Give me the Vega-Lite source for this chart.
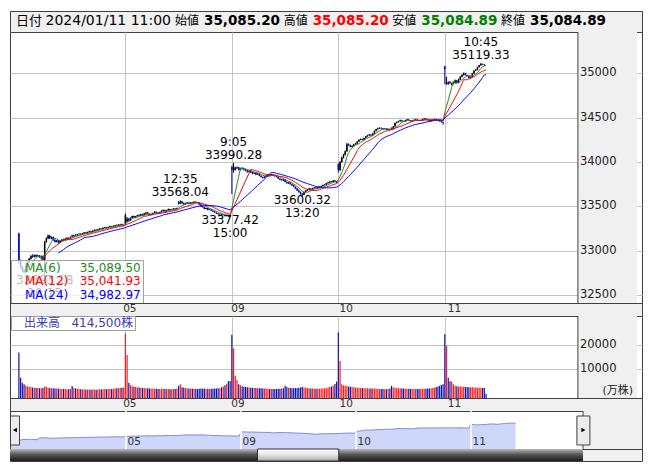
{
"$schema":"https://vega.github.io/schema/vega-lite/v6.json",
"background":"#ffffff",
"padding":{"left":8,"top":10,"right":5,"bottom":5},
"bounds":"flush",
"spacing":0,
"config":{"font":"DejaVu Sans, Noto Sans CJK JP","view":{"stroke":"#404040"}},
"resolve":{"scale":{"color":"independent","shape":"independent"},"legend":{"color":"independent","shape":"independent"}},
"datasets":{
"quote":[
{"k":"O","label":"始値","val":"35,085.20","date":"2024/01/11 11:00"},
{"k":"H","label":"高値","val":"35,085.20","date":"2024/01/11 11:00"},
{"k":"L","label":"安値","val":"35,084.89","date":"2024/01/11 11:00"},
{"k":"C","label":"終値","val":"35,084.89","date":"2024/01/11 11:00"}],
"days":[{"t":62,"d":"05"},{"t":124,"d":"09"},{"t":186,"d":"10"},{"t":248,"d":"11"}],
"pticks":[{"p":32500},{"p":33000},{"p":33500},{"p":34000},{"p":34500},{"p":35000}],
"vticks":[{"v":10000},{"v":20000}],
"notes":[
{"t":15,"p":32693.18,"side":"lo","label":"32693.18\n10:15"},
{"t":94,"p":33568.04,"side":"hi","label":"12:35\n33568.04"},
{"t":123,"p":33377.42,"side":"lo","label":"33377.42\n15:00"},
{"t":125,"p":33990.28,"side":"hi","label":"9:05\n33990.28"},
{"t":165,"p":33600.32,"side":"lo","label":"33600.32\n13:20"},
{"t":269,"p":35119.33,"side":"hi","label":"10:45\n35119.33"}],
"vlabel":[{"lab":"出来高\u00a0\u00a0\u00a0414,500株"}],
"bars":[
{"t":0,"o":33193,"h":33203,"l":32850,"c":32880,"v":16860},
{"t":1,"o":32880,"h":32900,"l":32800,"c":32820,"v":6530},
{"t":2,"o":32820,"h":32830,"l":32760,"c":32780,"v":4490},
{"t":3,"o":32780,"h":32800,"l":32740,"c":32760,"v":3920},
{"t":4,"o":32760,"h":32830,"l":32750,"c":32820,"v":3400},
{"t":5,"o":32820,"h":32880,"l":32810,"c":32870,"v":3100},
{"t":6,"o":32870,"h":32920,"l":32860,"c":32910,"v":2900},
{"t":7,"o":32910,"h":32950,"l":32900,"c":32940,"v":2800},
{"t":8,"o":32940,"h":32960,"l":32920,"c":32930,"v":2600},
{"t":9,"o":32930,"h":32955,"l":32925,"c":32950,"v":2500},
{"t":10,"o":32950,"h":32960,"l":32930,"c":32935,"v":2400},
{"t":11,"o":32935,"h":32955,"l":32930,"c":32945,"v":2400},
{"t":12,"o":32945,"h":32950,"l":32920,"c":32925,"v":2300},
{"t":13,"o":32925,"h":32945,"l":32900,"c":32940,"v":2300},
{"t":14,"o":32940,"h":32945,"l":32880,"c":32890,"v":2400},
{"t":15,"o":32890,"h":33110,"l":32693.18,"c":33100,"v":3000},
{"t":16,"o":33100,"h":33150,"l":33090,"c":33140,"v":2800},
{"t":17,"o":33140,"h":33180,"l":33130,"c":33170,"v":2600},
{"t":18,"o":33170,"h":33175,"l":33130,"c":33140,"v":2400},
{"t":19,"o":33140,"h":33160,"l":33130,"c":33155,"v":2300},
{"t":20,"o":33155,"h":33160,"l":33110,"c":33120,"v":2300},
{"t":21,"o":33120,"h":33130,"l":33090,"c":33100,"v":2200},
{"t":22,"o":33100,"h":33120,"l":33095,"c":33115,"v":2200},
{"t":23,"o":33115,"h":33120,"l":33080,"c":33090,"v":2100},
{"t":24,"o":33090,"h":33115,"l":33085,"c":33110,"v":2100},
{"t":25,"o":33110,"h":33130,"l":33105,"c":33125,"v":2000},
{"t":26,"o":33125,"h":33135,"l":33110,"c":33120,"v":2000},
{"t":27,"o":33120,"h":33140,"l":33115,"c":33135,"v":2000},
{"t":28,"o":33135,"h":33150,"l":33130,"c":33145,"v":1900},
{"t":29,"o":33145,"h":33150,"l":33130,"c":33140,"v":1900},
{"t":30,"o":33140,"h":33160,"l":33135,"c":33155,"v":2000},
{"t":31,"o":33175,"h":33180,"l":33150,"c":33160,"v":3200},
{"t":32,"o":33160,"h":33180,"l":33155,"c":33175,"v":2400},
{"t":33,"o":33175,"h":33185,"l":33165,"c":33170,"v":2200},
{"t":34,"o":33170,"h":33190,"l":33168,"c":33185,"v":2100},
{"t":35,"o":33185,"h":33195,"l":33180,"c":33190,"v":2000},
{"t":36,"o":33190,"h":33195,"l":33175,"c":33180,"v":1900},
{"t":37,"o":33180,"h":33200,"l":33178,"c":33195,"v":1900},
{"t":38,"o":33195,"h":33210,"l":33190,"c":33205,"v":1800},
{"t":39,"o":33205,"h":33210,"l":33190,"c":33195,"v":1800},
{"t":40,"o":33195,"h":33215,"l":33192,"c":33210,"v":1800},
{"t":41,"o":33210,"h":33225,"l":33205,"c":33220,"v":1800},
{"t":42,"o":33220,"h":33225,"l":33205,"c":33210,"v":1700},
{"t":43,"o":33210,"h":33230,"l":33208,"c":33225,"v":1800},
{"t":44,"o":33225,"h":33240,"l":33220,"c":33235,"v":1800},
{"t":45,"o":33235,"h":33240,"l":33220,"c":33228,"v":1700},
{"t":46,"o":33228,"h":33245,"l":33225,"c":33240,"v":1800},
{"t":47,"o":33240,"h":33255,"l":33235,"c":33250,"v":1900},
{"t":48,"o":33250,"h":33255,"l":33238,"c":33245,"v":1800},
{"t":49,"o":33245,"h":33262,"l":33242,"c":33258,"v":1900},
{"t":50,"o":33258,"h":33270,"l":33255,"c":33265,"v":2000},
{"t":51,"o":33265,"h":33268,"l":33250,"c":33255,"v":1900},
{"t":52,"o":33255,"h":33272,"l":33252,"c":33268,"v":2000},
{"t":53,"o":33268,"h":33280,"l":33265,"c":33275,"v":2100},
{"t":54,"o":33275,"h":33280,"l":33262,"c":33268,"v":2000},
{"t":55,"o":33268,"h":33285,"l":33265,"c":33280,"v":2100},
{"t":56,"o":33280,"h":33292,"l":33276,"c":33288,"v":2200},
{"t":57,"o":33288,"h":33295,"l":33278,"c":33282,"v":2300},
{"t":58,"o":33282,"h":33298,"l":33280,"c":33294,"v":2400},
{"t":59,"o":33294,"h":33302,"l":33288,"c":33298,"v":2500},
{"t":60,"o":33298,"h":33305,"l":33285,"c":33290,"v":2500},
{"t":61,"o":33280,"h":33295,"l":33278,"c":33288.29,"v":2600},
{"t":62,"o":33300,"h":33420,"l":33295,"c":33400,"v":24600},
{"t":63,"o":33330,"h":33380,"l":33320,"c":33360,"v":15800},
{"t":64,"o":33360,"h":33370,"l":33330,"c":33340,"v":4490},
{"t":65,"o":33340,"h":33375,"l":33335,"c":33370,"v":3570},
{"t":66,"o":33370,"h":33395,"l":33365,"c":33390,"v":3100},
{"t":67,"o":33390,"h":33395,"l":33365,"c":33375,"v":2900},
{"t":68,"o":33375,"h":33392,"l":33370,"c":33388,"v":2800},
{"t":69,"o":33388,"h":33405,"l":33385,"c":33400,"v":2700},
{"t":70,"o":33400,"h":33410,"l":33385,"c":33392,"v":2600},
{"t":71,"o":33392,"h":33415,"l":33390,"c":33410,"v":2500},
{"t":72,"o":33410,"h":33418,"l":33395,"c":33400,"v":2400},
{"t":73,"o":33400,"h":33425,"l":33398,"c":33420,"v":2400},
{"t":74,"o":33420,"h":33435,"l":33415,"c":33430,"v":2300},
{"t":75,"o":33430,"h":33435,"l":33410,"c":33415,"v":2300},
{"t":76,"o":33415,"h":33420,"l":33398,"c":33402,"v":2200},
{"t":77,"o":33402,"h":33415,"l":33400,"c":33412,"v":2200},
{"t":78,"o":33412,"h":33430,"l":33410,"c":33425,"v":2200},
{"t":79,"o":33425,"h":33445,"l":33422,"c":33440,"v":2100},
{"t":80,"o":33440,"h":33442,"l":33425,"c":33430,"v":2100},
{"t":81,"o":33430,"h":33432,"l":33415,"c":33420,"v":2000},
{"t":82,"o":33420,"h":33440,"l":33418,"c":33435,"v":2000},
{"t":83,"o":33435,"h":33455,"l":33432,"c":33450,"v":2100},
{"t":84,"o":33450,"h":33465,"l":33448,"c":33460,"v":2100},
{"t":85,"o":33460,"h":33462,"l":33440,"c":33445,"v":2000},
{"t":86,"o":33445,"h":33460,"l":33442,"c":33455,"v":2000},
{"t":87,"o":33455,"h":33475,"l":33452,"c":33470,"v":2000},
{"t":88,"o":33470,"h":33472,"l":33455,"c":33460,"v":1900},
{"t":89,"o":33460,"h":33470,"l":33458,"c":33465,"v":1900},
{"t":90,"o":33465,"h":33480,"l":33462,"c":33475,"v":2000},
{"t":91,"o":33475,"h":33478,"l":33462,"c":33470,"v":2000},
{"t":92,"o":33470,"h":33485,"l":33468,"c":33480,"v":2200},
{"t":93,"o":33550,"h":33560,"l":33520,"c":33530,"v":3300},
{"t":94,"o":33530,"h":33568.04,"l":33525,"c":33555,"v":3900},
{"t":95,"o":33555,"h":33560,"l":33530,"c":33535,"v":2700},
{"t":96,"o":33535,"h":33545,"l":33515,"c":33520,"v":2500},
{"t":97,"o":33520,"h":33540,"l":33518,"c":33535,"v":2400},
{"t":98,"o":33535,"h":33548,"l":33530,"c":33542,"v":2300},
{"t":99,"o":33542,"h":33545,"l":33525,"c":33530,"v":2200},
{"t":100,"o":33530,"h":33550,"l":33528,"c":33545,"v":2200},
{"t":101,"o":33545,"h":33550,"l":33535,"c":33540,"v":2100},
{"t":102,"o":33540,"h":33558,"l":33538,"c":33552,"v":2100},
{"t":103,"o":33552,"h":33555,"l":33540,"c":33545,"v":2000},
{"t":104,"o":33545,"h":33550,"l":33535,"c":33540,"v":2000},
{"t":105,"o":33540,"h":33542,"l":33515,"c":33520,"v":2100},
{"t":106,"o":33520,"h":33525,"l":33495,"c":33500,"v":2200},
{"t":107,"o":33500,"h":33505,"l":33485,"c":33490,"v":2100},
{"t":108,"o":33490,"h":33495,"l":33465,"c":33470,"v":2200},
{"t":109,"o":33470,"h":33485,"l":33468,"c":33480,"v":2000},
{"t":110,"o":33480,"h":33482,"l":33455,"c":33460,"v":2100},
{"t":111,"o":33460,"h":33470,"l":33458,"c":33465,"v":2000},
{"t":112,"o":33465,"h":33468,"l":33445,"c":33450,"v":2100},
{"t":113,"o":33450,"h":33452,"l":33435,"c":33440,"v":2100},
{"t":114,"o":33440,"h":33445,"l":33425,"c":33430,"v":2200},
{"t":115,"o":33430,"h":33432,"l":33415,"c":33420,"v":2200},
{"t":116,"o":33420,"h":33425,"l":33405,"c":33410,"v":2300},
{"t":117,"o":33410,"h":33420,"l":33405,"c":33415,"v":2300},
{"t":118,"o":33415,"h":33418,"l":33395,"c":33400,"v":2700},
{"t":119,"o":33400,"h":33410,"l":33398,"c":33405,"v":3000},
{"t":120,"o":33405,"h":33408,"l":33385,"c":33390,"v":3500},
{"t":121,"o":33390,"h":33400,"l":33388,"c":33395,"v":4100},
{"t":122,"o":33395,"h":33398,"l":33380,"c":33385,"v":5200},
{"t":123,"o":33385,"h":33390,"l":33377.42,"c":33377.42,"v":5200},
{"t":124,"o":33940,"h":33960,"l":33640,"c":33910,"v":24000},
{"t":125,"o":33910,"h":33990.28,"l":33880,"c":33950,"v":18500},
{"t":126,"o":33910,"h":33945,"l":33905,"c":33935,"v":7350},
{"t":127,"o":33935,"h":33950,"l":33920,"c":33940,"v":5580},
{"t":128,"o":33940,"h":33945,"l":33905,"c":33910,"v":3900},
{"t":129,"o":33910,"h":33935,"l":33905,"c":33930,"v":3500},
{"t":130,"o":33930,"h":33940,"l":33915,"c":33925,"v":3100},
{"t":131,"o":33925,"h":33935,"l":33905,"c":33915,"v":2900},
{"t":132,"o":33915,"h":33925,"l":33895,"c":33905,"v":2800},
{"t":133,"o":33905,"h":33915,"l":33880,"c":33890,"v":2700},
{"t":134,"o":33890,"h":33905,"l":33885,"c":33900,"v":2600},
{"t":135,"o":33900,"h":33905,"l":33875,"c":33880,"v":2500},
{"t":136,"o":33880,"h":33890,"l":33860,"c":33870,"v":2500},
{"t":137,"o":33870,"h":33885,"l":33865,"c":33880,"v":2400},
{"t":138,"o":33880,"h":33882,"l":33850,"c":33860,"v":2400},
{"t":139,"o":33860,"h":33875,"l":33855,"c":33870,"v":2300},
{"t":140,"o":33870,"h":33872,"l":33840,"c":33845,"v":2300},
{"t":141,"o":33845,"h":33850,"l":33825,"c":33830,"v":2300},
{"t":142,"o":33830,"h":33835,"l":33815,"c":33820,"v":2200},
{"t":143,"o":33820,"h":33840,"l":33818,"c":33835,"v":2200},
{"t":144,"o":33835,"h":33852,"l":33830,"c":33848,"v":2100},
{"t":145,"o":33848,"h":33862,"l":33845,"c":33858,"v":2100},
{"t":146,"o":33858,"h":33865,"l":33845,"c":33850,"v":2000},
{"t":147,"o":33850,"h":33868,"l":33848,"c":33862,"v":2000},
{"t":148,"o":33862,"h":33865,"l":33848,"c":33852,"v":2000},
{"t":149,"o":33852,"h":33855,"l":33835,"c":33840,"v":2000},
{"t":150,"o":33840,"h":33848,"l":33828,"c":33832,"v":2000},
{"t":151,"o":33832,"h":33835,"l":33808,"c":33812,"v":2100},
{"t":152,"o":33812,"h":33818,"l":33795,"c":33800,"v":2100},
{"t":153,"o":33800,"h":33810,"l":33790,"c":33805,"v":2200},
{"t":154,"o":33805,"h":33808,"l":33785,"c":33790,"v":2300},
{"t":155,"o":33800,"h":33805,"l":33770,"c":33775,"v":3300},
{"t":156,"o":33775,"h":33780,"l":33755,"c":33760,"v":2800},
{"t":157,"o":33760,"h":33775,"l":33755,"c":33770,"v":2500},
{"t":158,"o":33770,"h":33772,"l":33745,"c":33750,"v":2400},
{"t":159,"o":33750,"h":33755,"l":33730,"c":33735,"v":2300},
{"t":160,"o":33735,"h":33745,"l":33715,"c":33720,"v":2300},
{"t":161,"o":33720,"h":33725,"l":33695,"c":33700,"v":2400},
{"t":162,"o":33700,"h":33710,"l":33675,"c":33680,"v":2400},
{"t":163,"o":33680,"h":33690,"l":33655,"c":33660,"v":2500},
{"t":164,"o":33660,"h":33668,"l":33630,"c":33640,"v":2600},
{"t":165,"o":33640,"h":33650,"l":33600.32,"c":33630,"v":2800},
{"t":166,"o":33630,"h":33665,"l":33625,"c":33660,"v":2600},
{"t":167,"o":33660,"h":33685,"l":33655,"c":33680,"v":2500},
{"t":168,"o":33680,"h":33695,"l":33672,"c":33688,"v":2400},
{"t":169,"o":33688,"h":33705,"l":33685,"c":33700,"v":2300},
{"t":170,"o":33700,"h":33702,"l":33685,"c":33690,"v":2200},
{"t":171,"o":33690,"h":33710,"l":33688,"c":33705,"v":2200},
{"t":172,"o":33705,"h":33718,"l":33700,"c":33712,"v":2100},
{"t":173,"o":33712,"h":33715,"l":33695,"c":33700,"v":2100},
{"t":174,"o":33700,"h":33720,"l":33698,"c":33715,"v":2100},
{"t":175,"o":33715,"h":33728,"l":33710,"c":33722,"v":2100},
{"t":176,"o":33722,"h":33735,"l":33718,"c":33730,"v":2200},
{"t":177,"o":33730,"h":33745,"l":33725,"c":33740,"v":2200},
{"t":178,"o":33740,"h":33750,"l":33735,"c":33745,"v":2300},
{"t":179,"o":33745,"h":33765,"l":33742,"c":33760,"v":2300},
{"t":180,"o":33760,"h":33775,"l":33755,"c":33770,"v":2600},
{"t":181,"o":33770,"h":33785,"l":33765,"c":33780,"v":2800},
{"t":182,"o":33780,"h":33782,"l":33768,"c":33775,"v":3000},
{"t":183,"o":33775,"h":33795,"l":33772,"c":33790,"v":3300},
{"t":184,"o":33790,"h":33795,"l":33775,"c":33780,"v":4000},
{"t":185,"o":33780,"h":33785,"l":33760,"c":33763.18,"v":5000},
{"t":186,"o":33975,"h":33985,"l":33880,"c":33910,"v":25000},
{"t":187,"o":33910,"h":34010,"l":33900,"c":34000,"v":13350},
{"t":188,"o":34000,"h":34060,"l":33995,"c":34050,"v":3950},
{"t":189,"o":34050,"h":34090,"l":34040,"c":34080,"v":3500},
{"t":190,"o":34080,"h":34130,"l":34075,"c":34120,"v":3300},
{"t":191,"o":34120,"h":34215,"l":34115,"c":34200,"v":3200},
{"t":192,"o":34200,"h":34210,"l":34180,"c":34190,"v":3000},
{"t":193,"o":34190,"h":34195,"l":34165,"c":34170,"v":2900},
{"t":194,"o":34170,"h":34190,"l":34165,"c":34180,"v":2800},
{"t":195,"o":34180,"h":34205,"l":34178,"c":34200,"v":2700},
{"t":196,"o":34200,"h":34215,"l":34195,"c":34210,"v":2600},
{"t":197,"o":34210,"h":34235,"l":34205,"c":34230,"v":2500},
{"t":198,"o":34230,"h":34255,"l":34225,"c":34250,"v":2500},
{"t":199,"o":34250,"h":34265,"l":34245,"c":34260,"v":2400},
{"t":200,"o":34260,"h":34262,"l":34245,"c":34250,"v":2400},
{"t":201,"o":34250,"h":34275,"l":34248,"c":34270,"v":2300},
{"t":202,"o":34270,"h":34295,"l":34265,"c":34290,"v":2300},
{"t":203,"o":34290,"h":34305,"l":34285,"c":34300,"v":2300},
{"t":204,"o":34300,"h":34315,"l":34295,"c":34310,"v":2200},
{"t":205,"o":34310,"h":34312,"l":34295,"c":34300,"v":2200},
{"t":206,"o":34300,"h":34325,"l":34298,"c":34320,"v":2200},
{"t":207,"o":34320,"h":34355,"l":34318,"c":34350,"v":2200},
{"t":208,"o":34350,"h":34375,"l":34345,"c":34370,"v":2100},
{"t":209,"o":34370,"h":34388,"l":34365,"c":34380,"v":2100},
{"t":210,"o":34380,"h":34392,"l":34375,"c":34385,"v":2000},
{"t":211,"o":34385,"h":34388,"l":34372,"c":34380,"v":2000},
{"t":212,"o":34380,"h":34382,"l":34365,"c":34370,"v":2000},
{"t":213,"o":34370,"h":34380,"l":34368,"c":34375,"v":1900},
{"t":214,"o":34375,"h":34378,"l":34360,"c":34365,"v":1900},
{"t":215,"o":34365,"h":34375,"l":34362,"c":34370,"v":2000},
{"t":216,"o":34370,"h":34372,"l":34355,"c":34360,"v":2200},
{"t":217,"o":34385,"h":34390,"l":34362,"c":34370,"v":3300},
{"t":218,"o":34370,"h":34405,"l":34368,"c":34400,"v":2600},
{"t":219,"o":34400,"h":34445,"l":34398,"c":34440,"v":2500},
{"t":220,"o":34440,"h":34455,"l":34435,"c":34450,"v":2400},
{"t":221,"o":34450,"h":34465,"l":34445,"c":34460,"v":2300},
{"t":222,"o":34460,"h":34478,"l":34455,"c":34470,"v":2300},
{"t":223,"o":34470,"h":34472,"l":34455,"c":34460,"v":2200},
{"t":224,"o":34460,"h":34465,"l":34450,"c":34455,"v":2200},
{"t":225,"o":34455,"h":34475,"l":34452,"c":34470,"v":2100},
{"t":226,"o":34470,"h":34485,"l":34465,"c":34480,"v":2100},
{"t":227,"o":34480,"h":34482,"l":34465,"c":34470,"v":2100},
{"t":228,"o":34470,"h":34472,"l":34455,"c":34460,"v":2000},
{"t":229,"o":34460,"h":34475,"l":34458,"c":34470,"v":2000},
{"t":230,"o":34470,"h":34480,"l":34465,"c":34475,"v":2000},
{"t":231,"o":34475,"h":34488,"l":34472,"c":34480,"v":2000},
{"t":232,"o":34480,"h":34482,"l":34465,"c":34470,"v":2000},
{"t":233,"o":34470,"h":34472,"l":34460,"c":34465,"v":2000},
{"t":234,"o":34465,"h":34475,"l":34462,"c":34470,"v":2000},
{"t":235,"o":34470,"h":34485,"l":34468,"c":34480,"v":2100},
{"t":236,"o":34480,"h":34495,"l":34478,"c":34490,"v":2100},
{"t":237,"o":34490,"h":34492,"l":34480,"c":34485,"v":2100},
{"t":238,"o":34485,"h":34488,"l":34470,"c":34475,"v":2200},
{"t":239,"o":34475,"h":34478,"l":34455,"c":34460,"v":2200},
{"t":240,"o":34460,"h":34475,"l":34458,"c":34470,"v":2300},
{"t":241,"o":34470,"h":34485,"l":34468,"c":34480,"v":2400},
{"t":242,"o":34480,"h":34490,"l":34478,"c":34485,"v":2500},
{"t":243,"o":34485,"h":34488,"l":34470,"c":34475,"v":2800},
{"t":244,"o":34475,"h":34478,"l":34465,"c":34470,"v":3000},
{"t":245,"o":34470,"h":34472,"l":34455,"c":34460,"v":3300},
{"t":246,"o":34460,"h":34462,"l":34445,"c":34450,"v":3600},
{"t":247,"o":34450,"h":34455,"l":34420,"c":34441.72,"v":3900},
{"t":248,"o":35080,"h":35085,"l":34880,"c":35050,"v":24200},
{"t":249,"o":34880,"h":34960,"l":34870,"c":34900,"v":19600},
{"t":250,"o":34900,"h":34910,"l":34870,"c":34880,"v":6530},
{"t":251,"o":34905,"h":34910,"l":34880,"c":34890,"v":5180},
{"t":252,"o":34870,"h":34895,"l":34865,"c":34880,"v":4910},
{"t":253,"o":34880,"h":34900,"l":34875,"c":34890,"v":3950},
{"t":254,"o":34890,"h":34930,"l":34885,"c":34920,"v":3300},
{"t":255,"o":34920,"h":34925,"l":34885,"c":34890,"v":3100},
{"t":256,"o":34890,"h":34940,"l":34888,"c":34930,"v":3000},
{"t":257,"o":34930,"h":34970,"l":34925,"c":34960,"v":3000},
{"t":258,"o":34960,"h":34990,"l":34955,"c":34980,"v":2900},
{"t":259,"o":34980,"h":35010,"l":34975,"c":35000,"v":2900},
{"t":260,"o":35000,"h":35005,"l":34975,"c":34980,"v":2800},
{"t":261,"o":34980,"h":34985,"l":34965,"c":34970,"v":2800},
{"t":262,"o":34970,"h":34975,"l":34940,"c":34950,"v":2700},
{"t":263,"o":34950,"h":34965,"l":34945,"c":34960,"v":2700},
{"t":264,"o":34960,"h":35005,"l":34955,"c":35000,"v":2700},
{"t":265,"o":35000,"h":35035,"l":34995,"c":35030,"v":2600},
{"t":266,"o":35030,"h":35050,"l":35025,"c":35040,"v":2600},
{"t":267,"o":35040,"h":35075,"l":35035,"c":35070,"v":2500},
{"t":268,"o":35070,"h":35095,"l":35065,"c":35090,"v":2500},
{"t":269,"o":35090,"h":35119.33,"l":35085,"c":35105,"v":2500},
{"t":270,"o":35105,"h":35110,"l":35095,"c":35100,"v":2400},
{"t":271,"o":35100,"h":35102,"l":35085,"c":35092,"v":2400},
{"t":272,"o":35085.2,"h":35085.2,"l":35084.89,"c":35084.89,"v":41}
]},
"vconcat":[
{"width":632,"height":21,
 "view":{"fill":"#f0f0f0","stroke":"#404040"},
 "data":{"name":"quote"},
 "encoding":{"x":{"field":"k","type":"nominal","axis":null,"scale":{"type":"point","domain":["O","H","L","C"],"range":[165,491],"padding":0}}},
 "layer":[
  {"mark":{"type":"text","align":"left","baseline":"middle","fontSize":12,"dy":-1,"color":"#000000"},"encoding":{"text":{"field":"label"}}},
  {"mark":{"type":"text","align":"left","baseline":"middle","fontSize":13.5,"fontWeight":"bold","dx":29,"dy":-1},"encoding":{"text":{"field":"val"},"color":{"field":"k","type":"nominal","scale":{"domain":["O","H","L","C"],"range":["#000000","#ff0000","#008000","#000000"]},"legend":null}}},
  {"transform":[{"filter":"datum.k=='O'"}],"mark":{"type":"text","align":"right","baseline":"middle","fontSize":14,"dx":-4,"dy":-1,"color":"#000000"},"encoding":{"text":{"field":"date"}}},
  {"transform":[{"filter":"datum.k=='O'"}],"mark":{"type":"text","align":"right","baseline":"middle","fontSize":13,"dx":-133,"dy":-1,"color":"#000000"},"encoding":{"text":{"value":"日付"}}}
 ]},
{"width":632,"height":271,
 "view":{"fill":"#ffffff","stroke":"#404040"},
 "layer":[
  {"data":{"name":"bars"},"mark":{"type":"rule","strokeWidth":1},
   "encoding":{
    "x":{"field":"t","type":"quantitative","scale":{"domain":[-2.27,359.9],"nice":false,"zero":false},"axis":{"values":[62,124,186,248],"grid":true,"gridColor":"#c4c4c4","labels":false,"ticks":false,"domain":false,"title":null}},
    "y":{"field":"l","type":"quantitative","scale":{"domain":[32410,35466],"nice":false,"zero":false},"axis":{"orient":"right","values":[32500,33000,33500,34000,34500,35000],"grid":true,"gridColor":"#c4c4c4","labels":false,"ticks":false,"domain":false,"title":null}},
    "y2":{"field":"h"},
    "color":{"condition":{"test":"datum.c >= datum.o","value":"#000000"},"value":"#0000c0"}}},
  {"data":{"name":"bars"},"mark":{"type":"bar","size":1.5},
   "encoding":{
    "x":{"field":"t","type":"quantitative","scale":{"domain":[-2.27,359.9],"nice":false,"zero":false},"axis":{"values":[62,124,186,248],"grid":true,"gridColor":"#c4c4c4","labels":false,"ticks":false,"domain":false,"title":null}},
    "y":{"field":"o","type":"quantitative","scale":{"domain":[32410,35466],"nice":false,"zero":false},"axis":{"orient":"right","values":[32500,33000,33500,34000,34500,35000],"grid":true,"gridColor":"#c4c4c4","labels":false,"ticks":false,"domain":false,"title":null}},
    "y2":{"field":"c"},
    "color":{"condition":{"test":"datum.c >= datum.o","value":"#000000"},"value":"#0000c0"}}},
  {"data":{"name":"bars"},
   "transform":[
    {"window":[{"op":"mean","field":"c","as":"m6"},{"op":"count","as":"n6"}],"frame":[-5,0],"sort":[{"field":"t"}]},
    {"window":[{"op":"mean","field":"c","as":"m12"},{"op":"count","as":"n12"}],"frame":[-11,0],"sort":[{"field":"t"}]},
    {"window":[{"op":"mean","field":"c","as":"m24"},{"op":"count","as":"n24"}],"frame":[-23,0],"sort":[{"field":"t"}]},
    {"fold":["m6","m12","m24"],"as":["k","ma"]},
    {"filter":"datum.k=='m6' ? datum.n6>=6 : datum.k=='m12' ? datum.n12>=12 : datum.n24>=24"}
   ],
   "mark":{"type":"line","strokeWidth":1},
   "encoding":{
    "x":{"field":"t","type":"quantitative","scale":{"domain":[-2.27,359.9],"nice":false,"zero":false},"axis":{"values":[62,124,186,248],"grid":true,"gridColor":"#c4c4c4","labels":false,"ticks":false,"domain":false,"title":null}},
    "y":{"field":"ma","type":"quantitative","scale":{"domain":[32410,35466],"nice":false,"zero":false},"axis":{"orient":"right","values":[32500,33000,33500,34000,34500,35000],"grid":true,"gridColor":"#c4c4c4","labels":false,"ticks":false,"domain":false,"title":null}},
    "color":{"field":"k","type":"nominal","scale":{"domain":["m6","m12","m24"],"range":["#228b22","#ff0000","#0000ff"]},
     "legend":{"orient":"none","legendX":1,"legendY":228,"title":null,
      "labelExpr":"datum.value=='m6' ? 'MA(6)\u00a0\u00a0\u00a0\u00a0\u00a035,089.50' : datum.value=='m12' ? 'MA(12)\u00a0\u00a0\u00a035,041.93' : 'MA(24)\u00a0\u00a0\u00a034,982.97'",
      "labelColor":{"expr":"datum.value=='m6' ? '#228b22' : datum.value=='m12' ? '#ff0000' : '#0000ff'"},
      "labelFontSize":12,"labelOffset":0,"symbolType":"circle","symbolSize":1,"symbolStrokeWidth":0,"symbolOpacity":0,
      "fillColor":"rgba(255,255,255,0.72)","strokeColor":"#a0a0a0","padding":2,"rowPadding":1.3,"labelLimit":300}}}},
  {"data":{"name":"notes"},"transform":[{"filter":"datum.side=='hi'"}],
   "mark":{"type":"text","baseline":"bottom","align":"center","fontSize":12,"lineHeight":13,"lineBreak":"\n","dy":-14,"color":"#000000"},
   "encoding":{
    "x":{"field":"t","type":"quantitative","scale":{"domain":[-2.27,359.9],"nice":false,"zero":false},"axis":{"values":[62,124,186,248],"grid":true,"gridColor":"#c4c4c4","labels":false,"ticks":false,"domain":false,"title":null}},
    "y":{"field":"p","type":"quantitative","scale":{"domain":[32410,35466],"nice":false,"zero":false},"axis":{"orient":"right","values":[32500,33000,33500,34000,34500,35000],"grid":true,"gridColor":"#c4c4c4","labels":false,"ticks":false,"domain":false,"title":null}},
    "text":{"field":"label"}}},
  {"data":{"name":"notes"},"transform":[{"filter":"datum.side=='lo'"}],
   "mark":{"type":"text","baseline":"top","align":"center","fontSize":12,"lineHeight":13,"lineBreak":"\n","dy":-2.5,"color":"#000000","clip":true},
   "encoding":{
    "x":{"field":"t","type":"quantitative","scale":{"domain":[-2.27,359.9],"nice":false,"zero":false},"axis":{"values":[62,124,186,248],"grid":true,"gridColor":"#c4c4c4","labels":false,"ticks":false,"domain":false,"title":null}},
    "y":{"field":"p","type":"quantitative","scale":{"domain":[32410,35466],"nice":false,"zero":false},"axis":{"orient":"right","values":[32500,33000,33500,34000,34500,35000],"grid":true,"gridColor":"#c4c4c4","labels":false,"ticks":false,"domain":false,"title":null}},
    "text":{"field":"label"}}},
  {"data":{"values":[{}]},"mark":{"type":"rect","fill":"#f0f0f0"},
   "encoding":{
    "x":{"datum":325.5,"type":"quantitative","scale":{"domain":[-2.27,359.9],"nice":false,"zero":false},"axis":{"values":[62,124,186,248],"grid":true,"gridColor":"#c4c4c4","labels":false,"ticks":false,"domain":false,"title":null}},
    "x2":{"datum":359.9}}},
  {"data":{"values":[{}]},"mark":{"type":"rule","color":"#404040","strokeWidth":1},
   "encoding":{
    "x":{"datum":325.5,"type":"quantitative","scale":{"domain":[-2.27,359.9],"nice":false,"zero":false},"axis":{"values":[62,124,186,248],"grid":true,"gridColor":"#c4c4c4","labels":false,"ticks":false,"domain":false,"title":null}}}},
  {"data":{"name":"pticks"},"mark":{"type":"text","align":"left","baseline":"middle","dx":2,"fontSize":11.5,"color":"#222222"},
   "encoding":{
    "x":{"datum":325.5,"type":"quantitative","scale":{"domain":[-2.27,359.9],"nice":false,"zero":false},"axis":{"values":[62,124,186,248],"grid":true,"gridColor":"#c4c4c4","labels":false,"ticks":false,"domain":false,"title":null}},
    "y":{"field":"p","type":"quantitative","scale":{"domain":[32410,35466],"nice":false,"zero":false},"axis":{"orient":"right","values":[32500,33000,33500,34000,34500,35000],"grid":true,"gridColor":"#c4c4c4","labels":false,"ticks":false,"domain":false,"title":null}},
    "text":{"field":"p","type":"quantitative","format":"d"}}}
 ]},
{"width":632,"height":13,
 "view":{"fill":"#f0f0f0","stroke":"#404040"},
 "data":{"name":"days"},
 "mark":{"type":"text","align":"left","baseline":"middle","dx":1,"dy":-0.5,"fontSize":10.5,"color":"#333333"},
 "encoding":{"x":{"field":"t","type":"quantitative","scale":{"domain":[-2.27,359.9],"nice":false,"zero":false},"axis":null},"text":{"field":"d"}}},
{"width":632,"height":82,
 "view":{"fill":"#ffffff","stroke":"#404040"},
 "layer":[
  {"data":{"name":"bars"},"mark":{"type":"bar","size":1.2},
   "encoding":{
    "x":{"field":"t","type":"quantitative","scale":{"domain":[-2.27,359.9],"nice":false,"zero":false},"axis":{"values":[62,124,186,248],"grid":true,"gridColor":"#c4c4c4","labels":false,"ticks":false,"domain":false,"title":null}},
    "y":{"field":"v","type":"quantitative","scale":{"domain":[-1667,31667],"nice":false,"zero":false},"axis":{"orient":"right","values":[10000,20000],"grid":true,"gridColor":"#c4c4c4","labels":false,"ticks":false,"domain":false,"title":null}},
    "y2":{"datum":-1667},
    "color":{"condition":{"test":"datum.c >= datum.o","value":"#ff1a1a"},"value":"#1010b0"}}},
  {"data":{"values":[{}]},"mark":{"type":"rect","fill":"#f0f0f0"},
   "encoding":{
    "x":{"datum":325.5,"type":"quantitative","scale":{"domain":[-2.27,359.9],"nice":false,"zero":false},"axis":{"values":[62,124,186,248],"grid":true,"gridColor":"#c4c4c4","labels":false,"ticks":false,"domain":false,"title":null}},
    "x2":{"datum":359.9}}},
  {"data":{"values":[{}]},"mark":{"type":"rule","color":"#404040","strokeWidth":1},
   "encoding":{
    "x":{"datum":325.5,"type":"quantitative","scale":{"domain":[-2.27,359.9],"nice":false,"zero":false},"axis":{"values":[62,124,186,248],"grid":true,"gridColor":"#c4c4c4","labels":false,"ticks":false,"domain":false,"title":null}}}},
  {"data":{"name":"vticks"},"mark":{"type":"text","align":"left","baseline":"middle","dx":2,"fontSize":11.5,"color":"#222222"},
   "encoding":{
    "x":{"datum":325.5,"type":"quantitative","scale":{"domain":[-2.27,359.9],"nice":false,"zero":false},"axis":{"values":[62,124,186,248],"grid":true,"gridColor":"#c4c4c4","labels":false,"ticks":false,"domain":false,"title":null}},
    "y":{"field":"v","type":"quantitative","scale":{"domain":[-1667,31667],"nice":false,"zero":false},"axis":{"orient":"right","values":[10000,20000],"grid":true,"gridColor":"#c4c4c4","labels":false,"ticks":false,"domain":false,"title":null}},
    "text":{"field":"v","type":"quantitative","format":"d"}}},
  {"data":{"values":[{}]},"mark":{"type":"text","align":"right","baseline":"middle","dx":-4,"fontSize":11,"color":"#222222"},
   "encoding":{
    "x":{"datum":359.9,"type":"quantitative","scale":{"domain":[-2.27,359.9],"nice":false,"zero":false},"axis":{"values":[62,124,186,248],"grid":true,"gridColor":"#c4c4c4","labels":false,"ticks":false,"domain":false,"title":null}},
    "y":{"datum":1180,"type":"quantitative","scale":{"domain":[-1667,31667],"nice":false,"zero":false},"axis":{"orient":"right","values":[10000,20000],"grid":true,"gridColor":"#c4c4c4","labels":false,"ticks":false,"domain":false,"title":null}},
    "text":{"value":"(万株)"}}},
  {"data":{"name":"vlabel"},"mark":{"type":"point","opacity":0},
   "encoding":{
    "x":{"datum":0,"type":"quantitative","scale":{"domain":[-2.27,359.9],"nice":false,"zero":false},"axis":{"values":[62,124,186,248],"grid":true,"gridColor":"#c4c4c4","labels":false,"ticks":false,"domain":false,"title":null}},
    "y":{"datum":0,"type":"quantitative","scale":{"domain":[-1667,31667],"nice":false,"zero":false},"axis":{"orient":"right","values":[10000,20000],"grid":true,"gridColor":"#c4c4c4","labels":false,"ticks":false,"domain":false,"title":null}},
    "shape":{"field":"lab","type":"nominal",
    "legend":{"orient":"none","legendX":1,"legendY":0,"title":null,"symbolType":"circle","symbolSize":1,"symbolStrokeWidth":0,"symbolOpacity":0,"labelOffset":0,"labelColor":"#3a3ac0","labelFontSize":12,"fillColor":"#ffffff","strokeColor":"#a0a0a0","padding":1,"labelLimit":300}}}}
 ]},
{"width":632,"height":13,
 "view":{"fill":"#f0f0f0","stroke":"#404040"},
 "data":{"name":"days"},
 "mark":{"type":"text","align":"left","baseline":"middle","dx":1,"dy":-0.5,"fontSize":10.5,"color":"#333333"},
 "encoding":{"x":{"field":"t","type":"quantitative","scale":{"domain":[-2.27,359.9],"nice":false,"zero":false},"axis":null},"text":{"field":"d"}}},
{"width":632,"height":38,
 "view":{"fill":"#ffffff","stroke":"#404040"},
 "layer":[
  {"data":{"name":"bars"},"mark":{"type":"area","color":"#b9c5f7","line":{"color":"#7d88df","strokeWidth":1}},
   "encoding":{"x":{"field":"t","type":"quantitative","scale":{"domain":[-0.54,340.2],"nice":false,"zero":false},"axis":null},
    "y":{"field":"c","type":"quantitative","scale":{"domain":[31671,36718],"nice":false,"zero":false},"axis":null},"y2":{"datum":31671}}},
  {"data":{"name":"days"},"mark":{"type":"rule","color":"#ffffff","strokeWidth":1.5},
   "encoding":{"x":{"field":"t","type":"quantitative","scale":{"domain":[-0.54,340.2],"nice":false,"zero":false},"axis":null}}},
  {"data":{"name":"days"},"mark":{"type":"text","align":"left","baseline":"middle","dx":1.5,"dy":11.5,"fontSize":10.5,"color":"#333333"},
   "encoding":{"x":{"field":"t","type":"quantitative","scale":{"domain":[-0.54,340.2],"nice":false,"zero":false},"axis":null},"text":{"field":"d"}}},
  {"data":{"values":[{}]},"mark":{"type":"rect","fill":"#f0f0f0"},
   "encoding":{"x":{"datum":308.4,"type":"quantitative","scale":{"domain":[-0.54,340.2],"nice":false,"zero":false},"axis":null},"x2":{"datum":340.2}}},
  {"data":{"values":[{}]},"mark":{"type":"rule","color":"#404040","strokeWidth":1},
   "encoding":{"x":{"datum":308.4,"type":"quantitative","scale":{"domain":[-0.54,340.2],"nice":false,"zero":false},"axis":null}}},
  {"data":{"values":[{}]},"mark":{"type":"rect","fill":"#ececec","stroke":"#404040","strokeWidth":1},
   "encoding":{"x":{"datum":-0.3,"type":"quantitative","scale":{"domain":[-0.54,340.2],"nice":false,"zero":false},"axis":null},"x2":{"datum":4.6},
    "y":{"datum":36054,"type":"quantitative","scale":{"domain":[31671,36718],"nice":false,"zero":false},"axis":null},"y2":{"datum":32203}}},
  {"data":{"values":[{}]},"mark":{"type":"rect","fill":"#ececec","stroke":"#404040","strokeWidth":1},
   "encoding":{"x":{"datum":305.1,"type":"quantitative","scale":{"domain":[-0.54,340.2],"nice":false,"zero":false},"axis":null},"x2":{"datum":312.1},
    "y":{"datum":36054,"type":"quantitative","scale":{"domain":[31671,36718],"nice":false,"zero":false},"axis":null},"y2":{"datum":32203}}},
  {"data":{"values":[{}]},"mark":{"type":"point","shape":"triangle-left","filled":true,"color":"#000000","size":22,"opacity":1},
   "encoding":{"x":{"datum":2.1,"type":"quantitative","scale":{"domain":[-0.54,340.2],"nice":false,"zero":false},"axis":null}}},
  {"data":{"values":[{}]},"mark":{"type":"point","shape":"triangle-right","filled":true,"color":"#000000","size":22,"opacity":1},
   "encoding":{"x":{"datum":308.6,"type":"quantitative","scale":{"domain":[-0.54,340.2],"nice":false,"zero":false},"axis":null}}}
 ]},
{"width":632,"height":12,
 "view":{"fill":"#f0f0f0","stroke":"#404040"},
 "layer":[
  {"data":{"values":[{}]},"mark":{"type":"rect","fill":{"gradient":"linear","x1":0,"y1":0,"x2":0,"y2":1,"stops":[{"offset":0,"color":"#b8b8b8"},{"offset":0.45,"color":"#585858"},{"offset":1,"color":"#1c1c1c"}]}},
   "encoding":{"x":{"datum":-0.54,"type":"quantitative","scale":{"domain":[-0.54,340.2],"nice":false,"zero":false},"axis":null},"x2":{"datum":308.4}}},
  {"data":{"values":[{}]},"mark":{"type":"rect","stroke":"#303030","strokeWidth":1,"fill":{"gradient":"linear","x1":0,"y1":0,"x2":0,"y2":1,"stops":[{"offset":0,"color":"#ffffff"},{"offset":0.5,"color":"#e4e4e4"},{"offset":1,"color":"#a8a8a8"}]}},
   "encoding":{"x":{"datum":132.9,"type":"quantitative","scale":{"domain":[-0.54,340.2],"nice":false,"zero":false},"axis":null},"x2":{"datum":176.7}}}
 ]}
]
}
